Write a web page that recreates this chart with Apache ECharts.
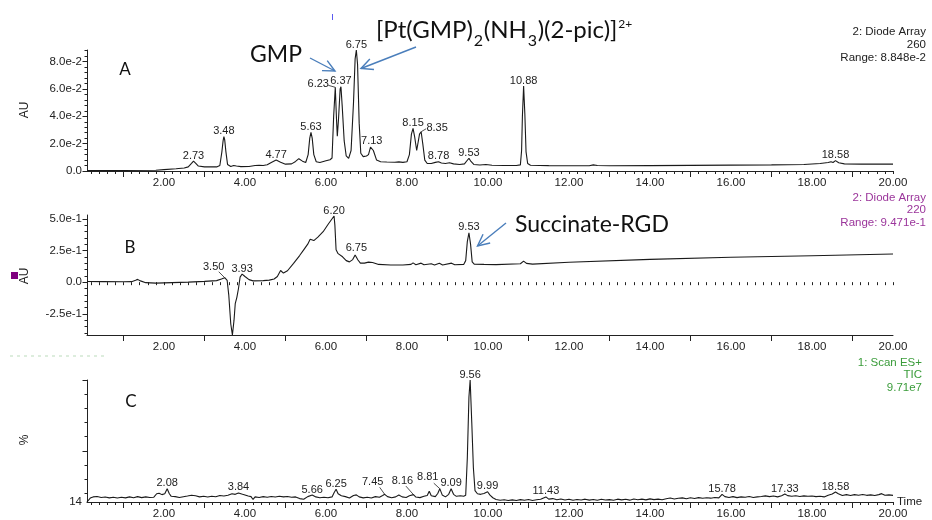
<!DOCTYPE html>
<html>
<head>
<meta charset="utf-8">
<script src="https://cdn.jsdelivr.net/npm/echarts@6/dist/echarts.min.js"></script>
<style>
  html, body { margin: 0; padding: 0; background: #fff; }
  #chart { width: 932px; height: 520px; }
</style>
</head>
<body>
<div id="chart"></div>
<script>
// ---- Chromatogram traces: [retention time (min), response] ----
// A: diode array, 260 nm (AU)
const uvTrace260 = [
  [0.1,0.0003],[1.0,0.0004],[1.8,0.0006],[2.0,0.0010],[2.3,0.0016],[2.5,0.0022],[2.6,0.0030],
  [2.68,0.0055],[2.73,0.0072],[2.78,0.0058],[2.85,0.0036],[3.0,0.0030],[3.3,0.0030],[3.38,0.0040],
  [3.43,0.0140],[3.46,0.0220],[3.48,0.0252],[3.50,0.0228],[3.53,0.0140],[3.57,0.0048],[3.65,0.0033],
  [3.72,0.0040],[3.75,0.0050],[3.79,0.0036],[3.9,0.0032],[4.1,0.0033],[4.25,0.0040],[4.35,0.0042],
  [4.45,0.0040],[4.55,0.0046],[4.65,0.0062],[4.77,0.0080],[4.88,0.0064],[5.0,0.0050],[5.15,0.0052],
  [5.25,0.0070],[5.33,0.0090],[5.42,0.0072],[5.5,0.0062],[5.56,0.0120],[5.6,0.0240],[5.63,0.0283],
  [5.66,0.0240],[5.70,0.0120],[5.76,0.0068],[5.85,0.0062],[6.0,0.0075],[6.1,0.0082],[6.15,0.0095],
  [6.19,0.0400],[6.23,0.0612],[6.26,0.0380],[6.28,0.0255],[6.31,0.0380],[6.35,0.0600],[6.37,0.0616],
  [6.40,0.0480],[6.45,0.0220],[6.5,0.0110],[6.56,0.0092],[6.62,0.0150],[6.68,0.0500],[6.72,0.0820],
  [6.75,0.0885],[6.78,0.0780],[6.82,0.0350],[6.86,0.0130],[6.92,0.0105],[7.0,0.0110],[7.05,0.0120],
  [7.10,0.0175],[7.13,0.0183],[7.17,0.0150],[7.25,0.0080],[7.35,0.0068],[7.5,0.0066],[7.7,0.0064],
  [7.8,0.0067],[7.9,0.0063],[8.0,0.0068],[8.06,0.0120],[8.11,0.0270],[8.15,0.0312],[8.19,0.0250],
  [8.24,0.0150],[8.27,0.0160],[8.31,0.0270],[8.35,0.0287],[8.39,0.0200],[8.44,0.0080],[8.5,0.0055],
  [8.6,0.0055],[8.7,0.0063],[8.78,0.0068],[8.85,0.0058],[8.95,0.0055],[9.05,0.0060],[9.15,0.0052],
  [9.3,0.0048],[9.42,0.0052],[9.48,0.0075],[9.53,0.0093],[9.58,0.0070],[9.65,0.0048],[9.8,0.0044],
  [9.95,0.0047],[10.1,0.0042],[10.4,0.0040],[10.7,0.0040],[10.8,0.0045],[10.83,0.0150],[10.85,0.0400],
  [10.88,0.0621],[10.91,0.0420],[10.94,0.0140],[10.98,0.0055],[11.05,0.0042],[11.5,0.0039],[12.0,0.0038],
  [12.5,0.0038],[12.6,0.0045],[12.7,0.0040],[13.0,0.0038],[14.0,0.0039],[15.0,0.0041],[16.0,0.0043],
  [17.0,0.0045],[17.8,0.0048],[18.2,0.0055],[18.4,0.0062],[18.47,0.0068],[18.52,0.0062],[18.58,0.0076],
  [18.66,0.0060],[18.8,0.0052],[19.2,0.0050],[20.0,0.0050]
];

// B: diode array, 220 nm (AU)
const uvTrace220 = [
  [0.1,0.005],[0.5,0.004],[1.0,0.003],[1.2,0.004],[1.3,0.015],[1.35,0.022],[1.42,0.010],[1.55,-0.004],
  [1.8,-0.008],[2.2,-0.004],[2.6,0.0],[3.0,0.006],[3.3,0.012],[3.42,0.025],[3.50,0.035],[3.56,0.015],
  [3.6,-0.100],[3.65,-0.330],[3.69,-0.417],[3.73,-0.300],[3.76,-0.170],[3.80,-0.120],[3.84,-0.050],
  [3.88,0.040],[3.93,0.064],[4.0,0.045],[4.1,0.020],[4.2,0.010],[4.45,0.012],[4.6,0.016],[4.72,0.025],
  [4.8,0.045],[4.88,0.092],[4.95,0.072],[5.05,0.090],[5.2,0.148],[5.35,0.210],[5.45,0.255],[5.55,0.300],
  [5.61,0.338],[5.65,0.348],[5.70,0.328],[5.8,0.355],[5.93,0.398],[6.05,0.455],[6.2,0.522],[6.22,0.450],
  [6.25,0.255],[6.3,0.225],[6.41,0.200],[6.5,0.170],[6.58,0.160],[6.66,0.178],[6.72,0.215],[6.75,0.228],
  [6.79,0.175],[6.85,0.150],[6.95,0.150],[7.05,0.158],[7.15,0.155],[7.3,0.140],[7.6,0.135],[7.9,0.135],
  [8.1,0.140],[8.15,0.152],[8.22,0.138],[8.35,0.150],[8.42,0.137],[8.6,0.145],[8.68,0.136],[8.8,0.150],
  [8.88,0.136],[9.1,0.150],[9.18,0.137],[9.4,0.140],[9.45,0.170],[9.49,0.320],[9.53,0.390],[9.57,0.300],
  [9.61,0.160],[9.66,0.142],[9.9,0.140],[10.2,0.138],[10.8,0.145],[10.88,0.166],[10.95,0.148],[11.1,0.142],
  [12.0,0.157],[14.0,0.180],[16.0,0.196],[18.0,0.209],[20.0,0.222]
];

// C: ES+ total ion current (%)
const ticTrace = [
  [0.10,14.0],[0.18,16.8],[0.25,17.6],[0.35,17.9],[0.45,17.2],[0.55,17.5],[0.65,16.9],[0.75,17.4],
  [0.85,16.8],[0.95,17.3],[1.05,16.9],[1.15,17.6],[1.25,17.0],[1.35,17.8],[1.45,17.1],[1.55,17.6],
  [1.65,17.2],[1.75,17.4],[1.82,19.8],[1.88,20.2],[1.95,19.2],[2.02,19.8],[2.08,23.4],[2.13,20.0],
  [2.18,18.0],[2.28,17.8],[2.38,17.2],[2.48,17.7],[2.58,18.2],[2.68,18.8],[2.78,18.4],[2.88,17.6],
  [2.98,18.0],[3.08,17.5],[3.18,18.1],[3.28,17.7],[3.38,18.6],[3.48,18.2],[3.58,18.8],[3.68,19.8],
  [3.76,19.4],[3.84,20.4],[3.92,19.6],[4.0,19.0],[4.08,18.2],[4.15,17.8],[4.2,15.8],[4.25,17.6],
  [4.35,17.2],[4.45,17.8],[4.55,17.4],[4.65,17.9],[4.75,17.5],[4.85,18.0],[4.95,17.6],[5.05,17.9],
  [5.15,17.3],[5.25,17.6],[5.35,16.4],[5.45,15.9],[5.55,17.8],[5.66,18.9],[5.75,17.6],[5.85,17.0],
  [5.95,17.4],[6.05,17.0],[6.15,17.6],[6.20,20.5],[6.25,23.0],[6.30,19.8],[6.38,18.4],[6.48,17.8],
  [6.58,16.8],[6.68,18.6],[6.75,19.0],[6.82,17.6],[6.92,16.9],[7.02,17.4],[7.12,16.8],[7.22,17.8],
  [7.32,17.4],[7.40,18.6],[7.45,19.4],[7.52,17.8],[7.62,17.0],[7.72,17.6],[7.80,19.0],[7.88,17.6],
  [7.98,17.2],[8.06,18.4],[8.16,19.2],[8.22,17.5],[8.32,17.1],[8.42,18.0],[8.50,18.6],[8.55,21.6],
  [8.60,18.4],[8.70,17.8],[8.76,20.0],[8.81,23.4],[8.87,19.0],[8.95,17.6],[9.03,19.4],[9.09,23.4],
  [9.15,19.4],[9.22,18.0],[9.32,18.4],[9.40,18.0],[9.45,18.8],[9.49,45.0],[9.53,88.0],[9.56,100.0],
  [9.60,70.0],[9.64,38.0],[9.68,22.0],[9.74,19.8],[9.82,19.4],[9.90,20.0],[9.94,19.2],[9.99,21.2],
  [10.05,18.8],[10.12,17.0],[10.2,15.8],[10.3,15.2],[10.4,15.6],[10.5,15.0],[10.6,15.5],[10.7,15.1],
  [10.8,15.7],[10.9,15.2],[11.0,15.8],[11.1,15.0],[11.2,15.6],[11.3,15.9],[11.43,17.6],[11.5,16.0],
  [11.6,16.4],[11.7,15.6],[11.8,16.1],[11.9,15.4],[12.0,15.9],[12.1,15.2],[12.2,15.8],[12.3,15.4],
  [12.4,16.0],[12.5,15.3],[12.6,15.8],[12.7,15.2],[12.8,15.9],[12.9,15.4],[13.0,15.7],[13.1,15.2],
  [13.2,16.0],[13.3,15.5],[13.4,15.9],[13.5,15.3],[13.6,16.1],[13.7,15.6],[13.8,16.0],[13.9,15.5],
  [14.0,16.2],[14.1,15.7],[14.2,16.0],[14.3,15.6],[14.4,16.3],[14.5,16.8],[14.6,16.1],[14.7,16.6],
  [14.8,16.9],[14.9,16.3],[15.0,17.0],[15.1,16.5],[15.2,17.1],[15.3,16.6],[15.4,17.0],[15.5,16.7],
  [15.6,17.2],[15.7,16.9],[15.78,19.4],[15.85,17.8],[15.95,17.2],[16.05,17.8],[16.15,17.1],[16.25,17.6],
  [16.35,17.3],[16.45,17.9],[16.55,17.2],[16.65,17.6],[16.75,17.9],[16.85,18.3],[16.95,17.8],[17.05,18.2],
  [17.15,17.6],[17.25,18.4],[17.33,19.6],[17.4,18.5],[17.5,18.0],[17.6,18.4],[17.7,17.9],[17.8,18.3],
  [17.9,18.0],[18.0,18.2],[18.1,17.8],[18.2,18.1],[18.3,17.6],[18.4,18.8],[18.5,19.6],[18.58,21.0],
  [18.65,19.8],[18.75,18.6],[18.85,19.2],[18.95,18.6],[19.05,19.2],[19.15,18.8],[19.25,19.3],[19.35,18.7],
  [19.45,19.0],[19.55,18.6],[19.65,19.2],[19.72,19.9],[19.8,18.8],[19.9,19.0],[20.0,18.7]
];

// ---- Annotated retention times ----
const peaks260 = [2.73, 3.48, 4.77, 5.63, 6.23, 6.37, 6.75, 7.13, 8.15, 8.35, 8.78, 9.53, 10.88, 18.58];
const peaks220 = [3.50, 3.93, 6.20, 6.75, 9.53];
const peaksTic = [2.08, 3.84, 5.66, 6.25, 7.45, 8.16, 8.81, 9.09, 9.56, 9.99, 11.43, 15.78, 17.33, 18.58];

// ---- Tick labels ----
const timeTicks = [2, 4, 6, 8, 10, 12, 14, 16, 18, 20];
const auTicks260 = [0, 0.02, 0.04, 0.06, 0.08];
const auTicks220 = [-0.25, 0, 0.25, 0.5];
const pctTicks = [14];

// ---- Layout / styling ----
const FONT = '"Liberation Sans", Arial, sans-serif';
const SLIDE_FONT = 'Lato, "Open Sans", sans-serif';
const INK = '#222';
const X_MIN = 0.1, X_MAX = 20;

function stepList(from, to, step) {
  const out = [];
  for (let v = from; v <= to + 1e-9; v += step) out.push(+v.toFixed(4));
  return out;
}
const oddMinutes = stepList(1, 19, 2);
const fifthMinutes = stepList(0.2, 20, 0.2);

const sciFmt = v => (Math.abs(v) < 1e-12 ? '0.0' : v.toExponential(1));

const panels = [
  { top: 50, height: 121, yMin: 0, yMax: 0.08848, trace: uvTrace260, peaks: peaks260,
    yLabels: auTicks260, yMajor: auTicks260, yMinor: stepList(0, 0.088, 0.004), fmt: sciFmt },
  { top: 215, height: 120, yMin: -0.417, yMax: 0.530, trace: uvTrace220, peaks: peaks220,
    yLabels: auTicks220, yMajor: auTicks220, yMinor: stepList(-0.4, 0.5, 0.05), fmt: sciFmt },
  { top: 380, height: 122, yMin: 14, yMax: 100, trace: ticTrace, peaks: peaksTic,
    yLabels: pctTicks, yMajor: [50, 100], yMinor: stepList(20, 90, 10), fmt: v => String(v) }
];

// Label placement relative to the apex (px); lead = start of a leader line
const labelNudge = [
  { '6.23': { dx: -17, dy: -3.5, lead: [-7, -2] }, '8.35': { dx: 16, dy: -3.5, lead: [5, -3] } },
  { '3.50': { dx: -11, dy: -11, lead: [-6, -6] } },
  { '7.45': { dx: -12, dy: -12, lead: [-5, -7] }, '8.16': { dx: -11, dy: -13.5, lead: [-7.5, -8.5] },
    '8.81': { dx: -12, dy: -11.5, lead: [-6, -5.5] } }
];

function valueAt(trace, t) {
  let best = trace[0];
  for (const p of trace) if (Math.abs(p[0] - t) < Math.abs(best[0] - t)) best = p;
  return best[1];
}

const grid = [], xAxis = [], yAxis = [], series = [];
panels.forEach((p, i) => {
  grid.push({ left: 87, right: 39, top: p.top, height: p.height, containLabel: false });
  const axisLineStyle = { color: INK, width: 1 };
  // main time axis: line, labels, long ticks
  xAxis.push({
    gridIndex: i, type: 'value', position: 'bottom', min: X_MIN, max: X_MAX,
    axisLine: { show: true, onZero: false, lineStyle: axisLineStyle },
    axisTick: { show: true, customValues: oddMinutes, length: 6, lineStyle: axisLineStyle },
    axisLabel: { customValues: timeTicks, formatter: v => v.toFixed(2), margin: 6,
      fontFamily: FONT, fontSize: 11.5, color: INK },
    splitLine: { show: false }
  });
  // short time ticks
  xAxis.push({
    gridIndex: i, type: 'value', position: 'bottom', min: X_MIN, max: X_MAX,
    axisLine: { show: false },
    axisTick: { show: true, customValues: fifthMinutes, length: 3, lineStyle: axisLineStyle },
    axisLabel: { show: false }, splitLine: { show: false }
  });
  yAxis.push({
    gridIndex: i, type: 'value', position: 'left', min: p.yMin, max: p.yMax,
    axisLine: { show: true, onZero: false, lineStyle: axisLineStyle },
    axisTick: { show: true, customValues: p.yMajor, length: 4.5, lineStyle: axisLineStyle },
    axisLabel: { customValues: p.yLabels, formatter: p.fmt, margin: 5,
      fontFamily: FONT, fontSize: 11.5, color: INK },
    splitLine: { show: false }
  });
  yAxis.push({
    gridIndex: i, type: 'value', position: 'left', min: p.yMin, max: p.yMax,
    axisLine: { show: false },
    axisTick: { show: true, customValues: p.yMinor, length: 2.5, lineStyle: axisLineStyle },
    axisLabel: { show: false }, splitLine: { show: false }
  });

  series.push({
    type: 'line', xAxisIndex: 2 * i, yAxisIndex: 2 * i, data: p.trace,
    showSymbol: false, symbol: 'none', silent: true,
    lineStyle: { color: '#1a1a1a', width: 1.1 }
  });

  const nudges = labelNudge[i];
  series.push({
    type: 'custom', xAxisIndex: 2 * i, yAxisIndex: 2 * i, silent: true,
    data: p.peaks.map(t => [t, valueAt(p.trace, t)]),
    renderItem: (params, api) => {
      const t = api.value(0), v = api.value(1);
      const pt = api.coord([t, v]);
      const key = t.toFixed(2);
      const n = nudges[key] || { dx: 0, dy: -5.5 };
      const children = [{
        type: 'text',
        style: { text: key, x: pt[0] + n.dx, y: pt[1] + n.dy, align: 'center', verticalAlign: 'middle',
          font: '11px ' + FONT, fill: INK }
      }];
      if (n.lead) {
        children.push({
          type: 'line',
          shape: { x1: pt[0] + n.lead[0], y1: pt[1] + n.lead[1], x2: pt[0], y2: pt[1] },
          style: { stroke: INK, lineWidth: 0.8 }
        });
      }
      return { type: 'group', children };
    }
  });
});

// ---- Annotation graphics ----
const ARROW = '#4a7ebb';
function arrow(x1, y1, x2, y2) {
  const ang = Math.atan2(y2 - y1, x2 - x1), len = 13, spread = 0.45;
  const b1 = [x2 - len * Math.cos(ang - spread), y2 - len * Math.sin(ang - spread)];
  const b2 = [x2 - len * Math.cos(ang + spread), y2 - len * Math.sin(ang + spread)];
  return [
    { type: 'line', shape: { x1, y1, x2, y2 }, style: { stroke: ARROW, lineWidth: 1.4 } },
    { type: 'polyline', shape: { points: [b1, [x2, y2], b2] }, style: { stroke: ARROW, lineWidth: 1.4, fill: null } }
  ];
}

function textW(str, font) {
  const ctx = document.createElement('canvas').getContext('2d');
  ctx.font = font;
  return ctx.measureText(str).width;
}

// complex formula with sub/superscripts, laid out piecewise
const formulaParts = [
  ['[Pt(GMP)', 'main'], ['2', 'sub'], ['(NH', 'main'], ['3', 'sub'], [')(2-pic)]', 'main'], ['2+', 'sup']
];
const partStyle = {
  main: { size: 24, y: 30 },
  sub: { size: 16, y: 41 },
  sup: { size: 12, y: 24.5 }
};
const formulaGraphics = [];
let fx = 376;
formulaParts.forEach(([s, kind]) => {
  const st = partStyle[kind];
  const font = st.size + 'px ' + SLIDE_FONT;
  formulaGraphics.push({ type: 'text', x: fx, y: st.y,
    style: { text: s, font, fill: '#111', align: 'left', verticalAlign: 'middle' } });
  fx += textW(s, font) + 0.8;
});

function sideText(lines, x, y0, color) {
  return lines.map((s, k) => ({
    type: 'text', x, y: y0 + k * 12.8,
    style: { text: s, font: '11.5px ' + FONT, fill: color, align: 'right', verticalAlign: 'middle' }
  }));
}

const graphics = [
  ...sideText(['2: Diode Array', '260', 'Range: 8.848e-2'], 926, 32, '#222'),
  ...sideText(['2: Diode Array', '220', 'Range: 9.471e-1'], 926, 197.5, '#9b359b'),
  ...sideText(['1: Scan ES+', 'TIC', '9.71e7'], 922, 362.5, '#3a9c3a'),
  { type: 'text', x: 25, y: 110, rotation: Math.PI / 2,
    style: { text: 'AU', font: '12px ' + FONT, fill: INK, align: 'center', verticalAlign: 'middle' } },
  { type: 'text', x: 25, y: 276, rotation: Math.PI / 2,
    style: { text: 'AU', font: '12px ' + FONT, fill: INK, align: 'center', verticalAlign: 'middle' } },
  { type: 'rect', shape: { x: 11, y: 272, width: 7, height: 7 }, style: { fill: '#800080' } },
  { type: 'text', x: 25, y: 440, rotation: Math.PI / 2,
    style: { text: '%', font: '12px ' + FONT, fill: INK, align: 'center', verticalAlign: 'middle' } },
  { type: 'text', x: 897, y: 502,
    style: { text: 'Time', font: '11.5px ' + FONT, fill: INK, align: 'left', verticalAlign: 'middle' } },
  { type: 'text', x: 125, y: 70,
    style: { text: 'A', font: '17px ' + SLIDE_FONT, fill: '#111', align: 'center', verticalAlign: 'middle' } },
  { type: 'text', x: 130, y: 248,
    style: { text: 'B', font: '17px ' + SLIDE_FONT, fill: '#111', align: 'center', verticalAlign: 'middle' } },
  { type: 'text', x: 131, y: 401.5,
    style: { text: 'C', font: '17px ' + SLIDE_FONT, fill: '#111', align: 'center', verticalAlign: 'middle' } },
  { type: 'text', x: 250, y: 55,
    style: { text: 'GMP', font: '23px ' + SLIDE_FONT, fill: '#111', align: 'left', verticalAlign: 'middle' } },
  { type: 'text', x: 515, y: 225,
    style: { text: 'Succinate-RGD', font: '23px ' + SLIDE_FONT, fill: '#111', align: 'left', verticalAlign: 'middle' } },
  ...formulaGraphics,
  ...arrow(310, 58, 335, 71),
  ...arrow(416, 47, 361, 68.5),
  ...arrow(506, 223, 477.5, 246),
  { type: 'line', shape: { x1: 332.5, y1: 14, x2: 332.5, y2: 20 }, style: { stroke: '#5b5bf0', lineWidth: 1 } },
  { type: 'line', shape: { x1: 10, y1: 356, x2: 106, y2: 356 },
    style: { stroke: 'rgba(130,185,130,0.35)', lineWidth: 1.5, lineDash: [3, 4] } }
];

const chart = echarts.init(document.getElementById('chart'), null, { renderer: 'canvas' });
chart.setOption({
  animation: false,
  backgroundColor: '#fff',
  grid, xAxis, yAxis, series,
  graphic: { elements: graphics }
});
</script>
</body>
</html>
